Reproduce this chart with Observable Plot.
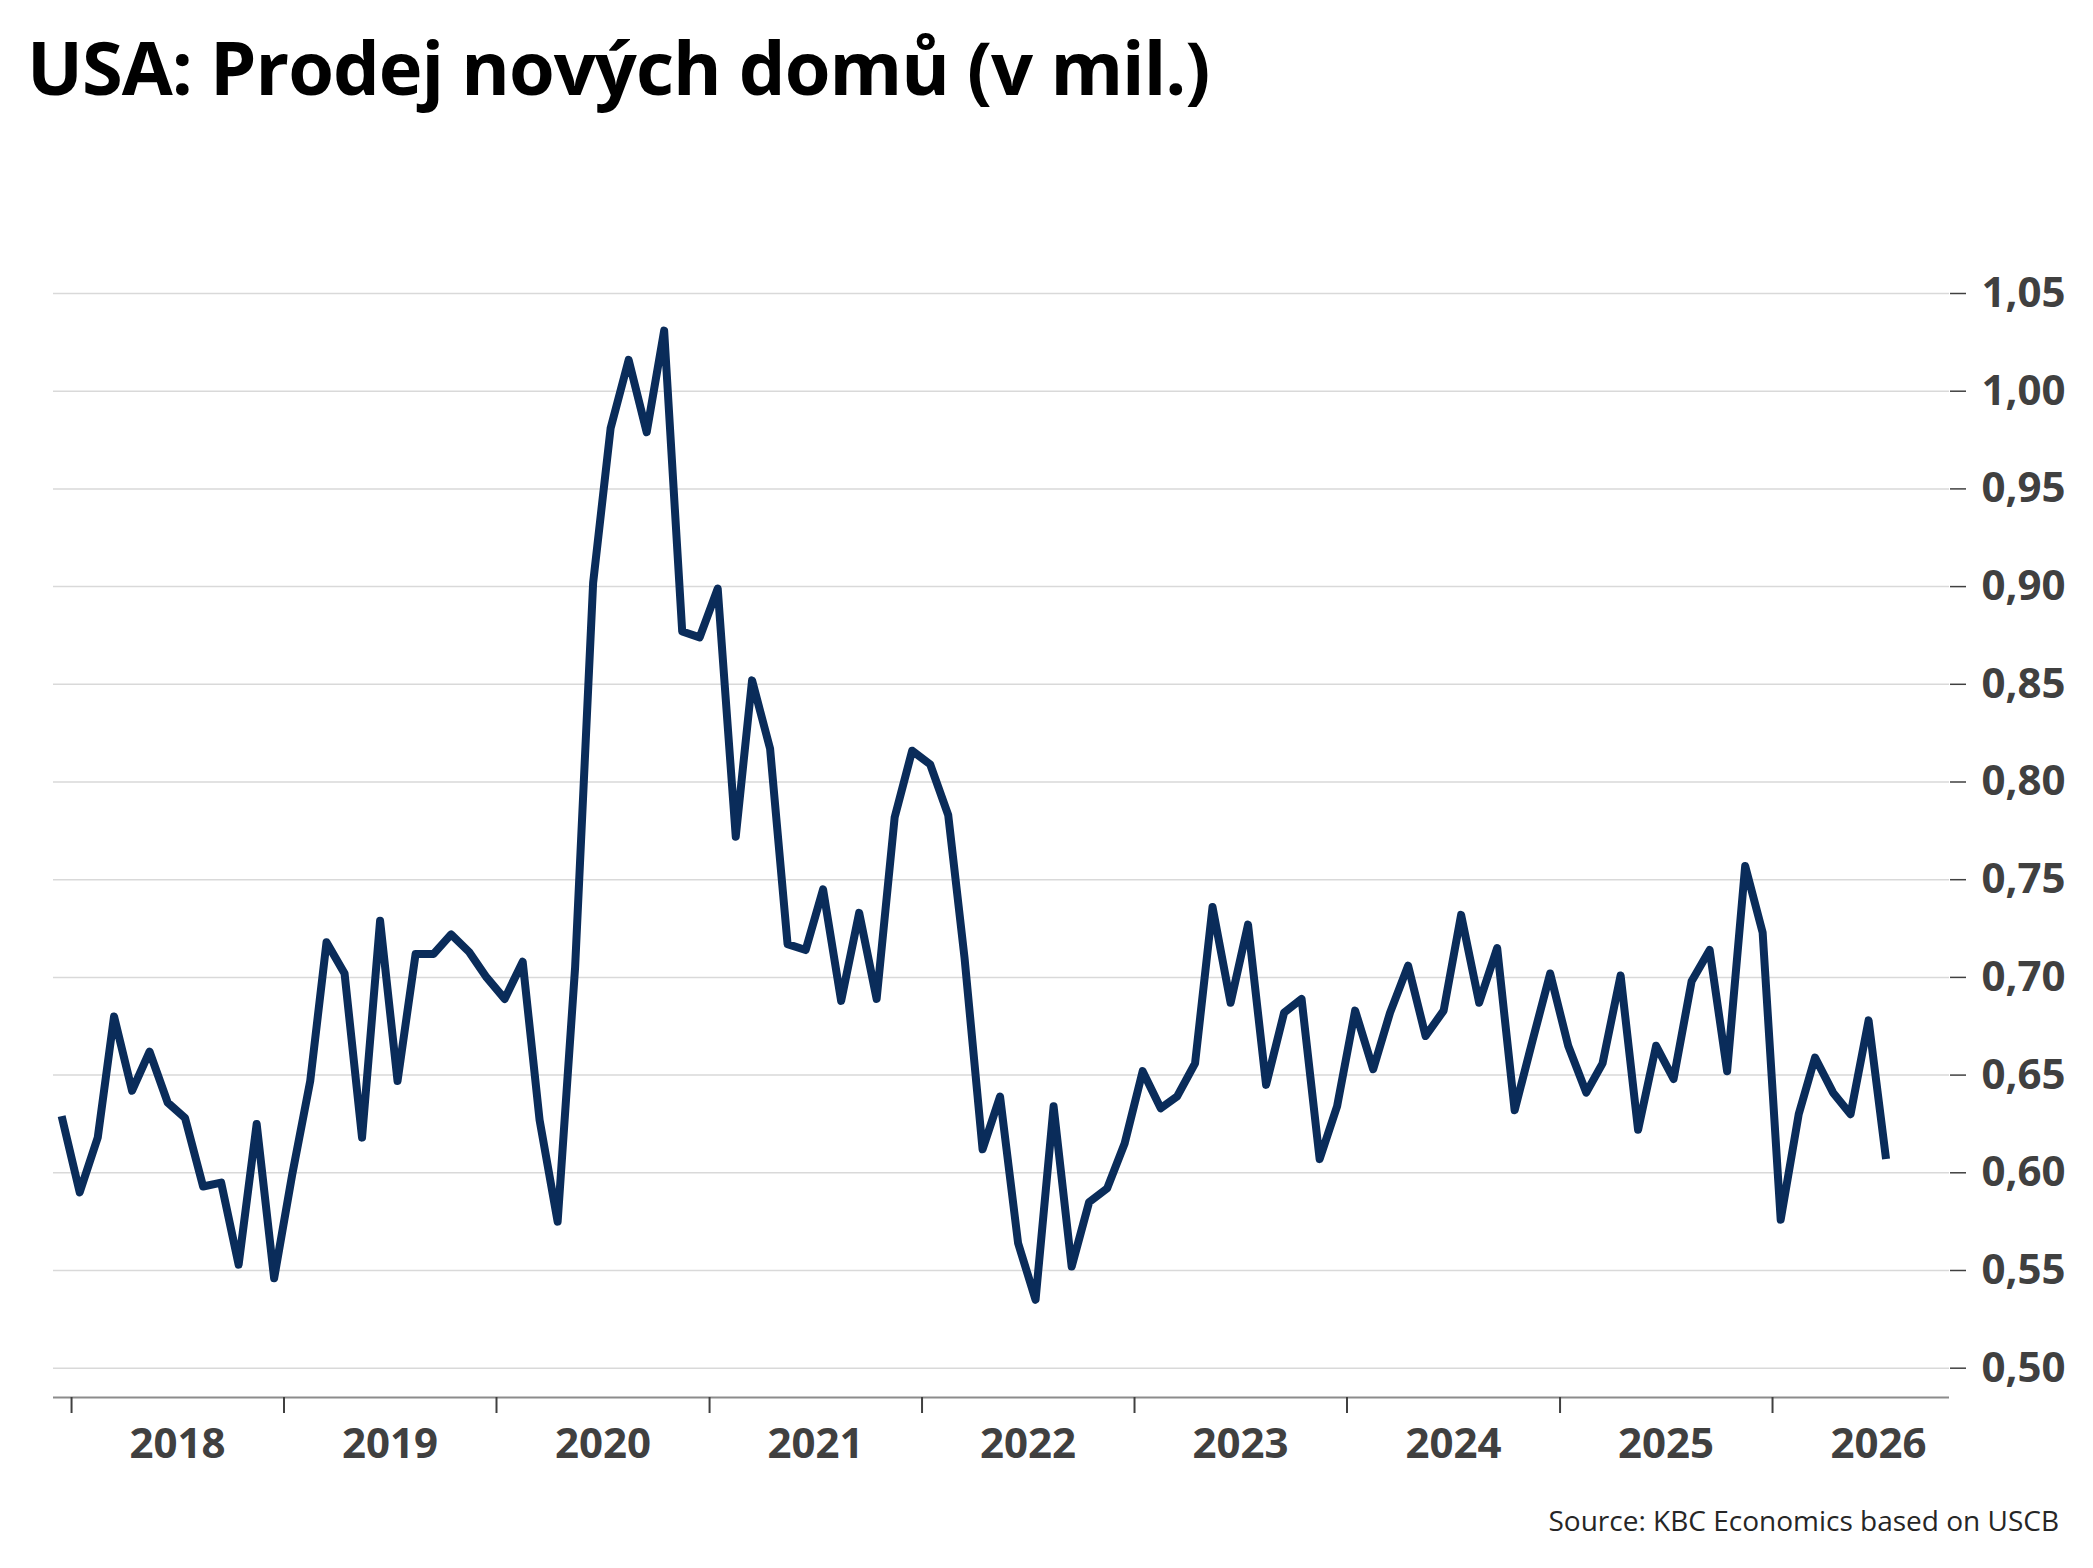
<!DOCTYPE html>
<html>
<head>
<meta charset="utf-8">
<script src="https://cdn.jsdelivr.net/npm/d3@7"></script>
<script src="https://cdn.jsdelivr.net/npm/@observablehq/plot@0.6"></script>
<style>
  body { margin: 0; background: #fff; }
  #wrap { position: relative; width: 2093px; height: 1568px; overflow: hidden; background: #fff; font-family: "Open Sans", sans-serif; }
  #title { position: absolute; left: 27px; top: 30px; font-weight: 700; font-size: 74px; letter-spacing: -1px; line-height: 1; color: #000; white-space: nowrap; }
  #unit { position: absolute; right: 25px; top: 204px; font-size: 38px; line-height: 1; color: #f4f4f4; white-space: nowrap; }
  #chart { position: absolute; left: 0; top: 150px; }
  #source { position: absolute; right: 34px; top: 1506px; font-size: 28px; line-height: 1; color: #262626; white-space: nowrap; }
</style>
</head>
<body>
<div id="wrap">
  <div id="title">USA: Prodej nových domů (v mil.)</div>
  <div id="unit">Item, million</div>
  <div id="chart"></div>
  <div id="source">Source: KBC Economics based on USCB</div>
</div>
<script>
// Monthly new home sales (millions), first month = Dec 2017
const startYear = 2017;
const startMonthIndex = 11; // December
const sales = [
  0.629, 0.590, 0.618, 0.680, 0.642, 0.662, 0.636, 0.628, 0.593, 0.595, 0.553, 0.625, 0.546,
  0.599, 0.647, 0.718, 0.702, 0.618, 0.729, 0.647, 0.712, 0.712, 0.722, 0.713, 0.700, 0.689,
  0.708, 0.627, 0.575, 0.705, 0.902, 0.981, 1.016, 0.979, 1.031, 0.877, 0.874, 0.899,
  0.772, 0.852, 0.817, 0.717, 0.714, 0.745, 0.688, 0.733, 0.689, 0.782, 0.816, 0.809,
  0.783, 0.710, 0.612, 0.639, 0.564, 0.535, 0.634, 0.552, 0.585, 0.592, 0.615, 0.652,
  0.633, 0.639, 0.656, 0.736, 0.687, 0.727, 0.645, 0.682, 0.689, 0.607, 0.634, 0.683,
  0.653, 0.682, 0.706, 0.670, 0.683, 0.732, 0.687, 0.715, 0.632, 0.668, 0.702, 0.665,
  0.641, 0.656, 0.701, 0.622, 0.665, 0.648, 0.698, 0.714, 0.652, 0.757, 0.723, 0.576,
  0.630, 0.659, 0.641, 0.630, 0.678, 0.607
];
const yearLabels = ["2018", "2019", "2020", "2021", "2022", "2023", "2024", "2025", "2026"];
const yTicks = [0.50, 0.55, 0.60, 0.65, 0.70, 0.75, 0.80, 0.85, 0.90, 0.95, 1.00, 1.05];

const data = sales.map((v, i) => ({
  date: new Date(Date.UTC(startYear, startMonthIndex + i, 15)),
  value: v
}));
const yearStarts = yearLabels.map(y => new Date(Date.UTC(+y, 0, 1)));
const yearMids = yearLabels.map(y => new Date(Date.UTC(+y, 6, 2)));

const chart = Plot.plot({
  width: 2093,
  height: 1340,
  marginLeft: 53,
  marginRight: 144,
  marginTop: 143,
  marginBottom: 93,
  style: { fontFamily: "Open Sans", background: "white", overflow: "visible" },
  x: { type: "utc", domain: [new Date(Date.UTC(2017, 11, 1)), new Date(Date.UTC(2026, 10, 1))] },
  y: { domain: [0.485, 1.05] },
  marks: [
    Plot.ruleY(yTicks, { stroke: "#d9d9d9", strokeWidth: 1.5 }),
    Plot.ruleY([0.485], { stroke: "#8c8c8c", strokeWidth: 2 }),
    Plot.axisX({ ticks: yearStarts, tickSize: 16, tickFormat: () => "", stroke: "#404040", strokeWidth: 2, label: null }),
    Plot.axisX({ ticks: yearMids, tickSize: 0, tickPadding: 31, tickFormat: d => String(d.getUTCFullYear()),
      fontSize: 42, fontWeight: 700, fill: "#404040", label: null }),
    Plot.axisY({ anchor: "right", ticks: yTicks, tickSize: 16, tickPadding: 16,
      tickFormat: d => d.toFixed(2).replace(".", ","), fontSize: 42, fontWeight: 700,
      fill: "#404040", stroke: "#404040", strokeWidth: 1.5, label: null }),
    Plot.lineY(data, { x: "date", y: "value", stroke: "#0a2c5a", strokeWidth: 8,
      strokeLinejoin: "round", strokeLinecap: "butt" })
  ]
});
document.getElementById("chart").appendChild(chart);
</script>
</body>
</html>
